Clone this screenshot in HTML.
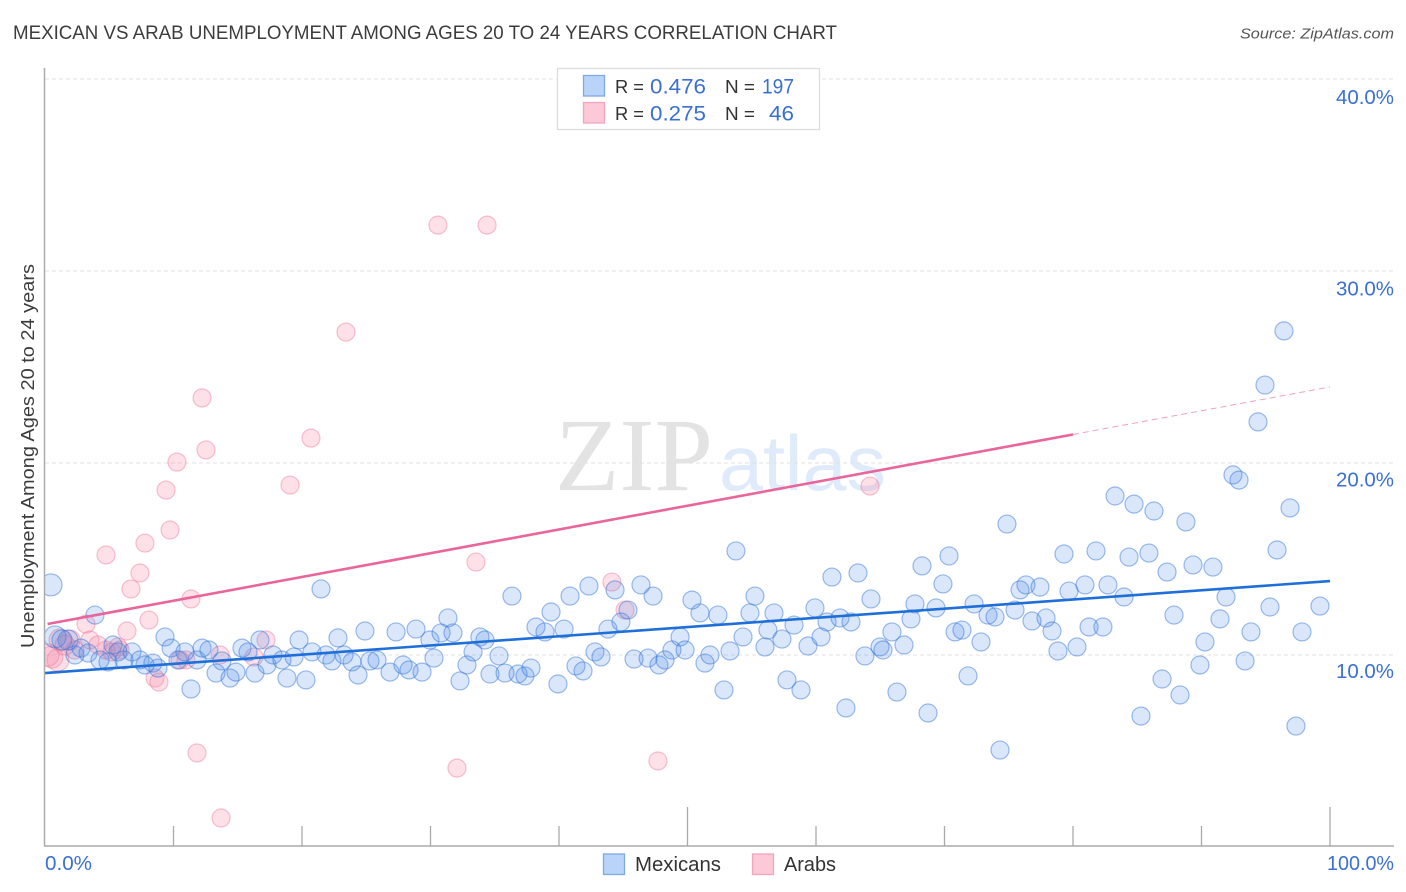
<!DOCTYPE html>
<html>
<head>
<meta charset="utf-8">
<title>Mexican vs Arab Unemployment Correlation Chart</title>
<style>
html,body{margin:0;padding:0;background:#fff;width:1406px;height:892px;overflow:hidden}
svg{display:block}
text{font-family:"Liberation Sans",sans-serif}
</style>
</head>
<body>
<svg id="chart" xmlns="http://www.w3.org/2000/svg" width="1406" height="892" viewBox="0 0 1406 892">
  <defs>
    <clipPath id="plot-clip"><rect x="45" y="60" width="1349" height="786"/></clipPath>
  </defs>
  <text x="13" y="39" font-size="19" fill="#3c3c3c" textLength="824" lengthAdjust="spacingAndGlyphs">MEXICAN VS ARAB UNEMPLOYMENT AMONG AGES 20 TO 24 YEARS CORRELATION CHART</text>
  <text x="1394" y="38.5" font-size="15" font-style="italic" fill="#555" text-anchor="end" textLength="154" lengthAdjust="spacingAndGlyphs">Source: ZipAtlas.com</text>
  <text transform="translate(34 456) rotate(-90)" font-size="18.5" fill="#3c3c3c" text-anchor="middle" textLength="384" lengthAdjust="spacingAndGlyphs">Unemployment Among Ages 20 to 24 years</text>

  <g id="watermark">
    <text x="555" y="490" font-size="104" fill="#e3e3e3" textLength="158" lengthAdjust="spacingAndGlyphs" style="font-family:'Liberation Serif',serif">ZIP</text>
    <text x="719" y="490" font-size="78" fill="#dfeafa" textLength="167" lengthAdjust="spacingAndGlyphs">atlas</text>
  </g>

  <g id="grid"></g>
  <g id="marks-arab" clip-path="url(#plot-clip)"></g>
  <g id="marks-mexican" clip-path="url(#plot-clip)"></g>
  <g id="trends"></g>
  <g id="axes">
    <line x1="44.5" y1="68" x2="44.5" y2="846" stroke="#aaa" stroke-width="1.5"/>
    <line x1="44" y1="846" x2="1394" y2="846" stroke="#aaa" stroke-width="1.5"/>
  </g>
  <g id="tick-labels"></g>

  <g>
    <rect x="557.5" y="68.5" width="262" height="61" fill="#fff" stroke="#ddd" stroke-width="1.3"/>
    <rect x="583.5" y="75.5" width="21" height="20.5" fill="#b9d4f8" stroke="#7fa8e4" stroke-width="1.3"/>
    <rect x="583.5" y="102.5" width="21" height="20.5" fill="#fdc8d8" stroke="#f2a5bd" stroke-width="1.3"/>
    <text x="615" y="93" font-size="18.5" fill="#333" textLength="29" lengthAdjust="spacingAndGlyphs">R =</text>
    <text x="650" y="93.5" font-size="21" fill="#3a70d2" textLength="56" lengthAdjust="spacingAndGlyphs">0.476</text>
    <text x="725" y="93" font-size="18.5" fill="#333" textLength="30" lengthAdjust="spacingAndGlyphs">N =</text>
    <text x="762" y="93.5" font-size="21" fill="#3a70d2" textLength="32" lengthAdjust="spacingAndGlyphs">197</text>
    <text x="615" y="120" font-size="18.5" fill="#333" textLength="29" lengthAdjust="spacingAndGlyphs">R =</text>
    <text x="650" y="120.5" font-size="21" fill="#3a70d2" textLength="56" lengthAdjust="spacingAndGlyphs">0.275</text>
    <text x="725" y="120" font-size="18.5" fill="#333" textLength="30" lengthAdjust="spacingAndGlyphs">N =</text>
    <text x="769" y="120.5" font-size="21" fill="#3a70d2" textLength="25" lengthAdjust="spacingAndGlyphs">46</text>
  </g>

  <g>
    <rect x="603.5" y="854" width="21" height="20.5" fill="#b9d4f8" stroke="#7fa8e4" stroke-width="1.3"/>
    <text x="635" y="871" font-size="20" fill="#333" textLength="86" lengthAdjust="spacingAndGlyphs">Mexicans</text>
    <rect x="752.5" y="854" width="21" height="20.5" fill="#fdc8d8" stroke="#f2a5bd" stroke-width="1.3"/>
    <text x="784" y="871" font-size="20" fill="#333" textLength="52" lengthAdjust="spacingAndGlyphs">Arabs</text>
  </g>
</svg>

<script>
const yTickValues = [10, 20, 30, 40];
const yTickLabels = ['10.0%', '20.0%', '30.0%', '40.0%'];
const xTickValues = [10, 20, 30, 40, 50, 60, 70, 80, 90, 100];
const xEndValues = [0, 100];
const xEndLabels = ['0.0%', '100.0%'];

const mexicanTrend = [9.06, 13.85];
const arabTrend = [11.59, 23.96];
const arabSolidUntil = 80;

const mexicanX = [0.47,3.89,0.78,1.79,1.32,2.33,2.80,3.35,4.28,4.90,5.29,5.68,6.15,6.77,7.39,7.78,8.40,8.79,9.34,9.81,
10.35,10.89,11.36,11.83,12.22,12.76,13.31,13.77,14.40,14.86,15.33,15.80,16.34,16.73,17.28,17.74,18.44,18.83,19.38,19.77,
20.31,20.78,21.48,21.87,22.33,22.80,23.27,23.89,24.36,24.90,25.29,25.84,26.85,27.32,27.86,28.33,28.87,29.34,29.96,30.27,
30.82,31.36,31.75,32.30,32.84,33.31,33.85,34.24,34.63,35.33,35.80,36.34,36.81,37.35,37.82,38.21,38.91,39.38,39.92,40.39,
40.86,41.32,41.87,42.33,42.80,43.27,43.81,44.36,44.82,45.37,45.84,46.38,46.93,47.32,47.78,48.25,48.79,49.42,49.81,50.35,
50.97,51.36,51.75,52.37,52.84,53.31,53.77,54.32,54.86,55.25,56.03,56.26,56.73,57.35,57.74,58.29,58.83,59.38,59.92,60.39,
60.86,61.24,61.87,62.33,62.72,63.27,63.81,64.28,64.98,65.21,65.91,66.30,66.85,67.39,67.70,68.25,68.72,69.34,69.88,70.35,
70.82,71.36,71.83,72.30,72.84,73.39,73.93,74.32,74.86,75.49,75.88,76.34,76.81,77.43,77.90,78.37,78.83,79.30,79.69,80.31,
80.93,81.25,81.79,82.33,82.72,83.27,83.97,84.36,84.75,85.29,85.91,86.30,86.93,87.32,87.86,88.33,88.79,89.34,89.88,90.27,
90.89,91.44,91.91,92.45,92.92,93.39,93.85,94.40,94.94,95.33,95.88,96.42,96.89,97.35,97.82,99.22];

const mexicanY = [13.65,12.08,10.94,10.78,10.78,10.00,10.36,10.10,9.74,9.64,10.52,10.16,9.74,10.16,9.74,9.48,9.58,9.32,10.94,10.36,
9.74,10.16,8.23,9.74,10.36,10.26,9.06,9.69,8.80,9.11,10.36,10.16,9.06,10.78,9.48,10.00,9.74,8.80,9.90,10.78,
8.70,10.16,13.44,10.00,9.69,10.89,10.00,9.64,8.96,11.25,9.69,9.74,9.11,11.20,9.48,9.22,11.35,9.11,10.78,9.84,
11.15,11.93,11.15,8.65,9.48,10.16,10.94,10.78,9.01,9.95,9.06,13.07,9.01,8.91,9.32,11.46,11.20,12.24,8.49,11.35,
13.07,9.43,9.17,13.59,10.16,9.90,11.35,13.39,11.72,12.34,9.79,13.65,9.84,13.07,9.48,9.74,10.26,10.94,10.26,12.86,
12.19,9.58,10.00,12.08,8.18,10.21,15.42,10.94,12.19,13.07,10.42,11.30,12.19,10.83,8.70,11.56,8.18,10.47,12.45,10.94,
11.72,14.06,11.93,7.24,11.72,14.27,9.95,12.92,10.42,10.26,11.20,8.07,10.52,11.88,12.66,14.64,6.98,12.45,13.70,15.16,
11.20,11.30,8.91,12.66,10.68,12.08,11.98,5.05,16.82,12.34,13.39,13.65,11.77,13.54,11.93,11.25,10.21,15.26,13.33,10.42,
13.65,11.46,15.42,11.46,13.65,18.28,13.02,15.10,17.86,6.82,15.31,17.50,8.75,14.32,12.08,7.92,16.93,14.69,9.48,10.68,
14.58,11.88,13.02,19.38,19.11,9.69,11.20,22.14,24.06,12.50,15.47,26.88,17.66,6.30,11.20,12.55];

const arabX = [0.54,1.01,1.95,1.17,0.23,1.56,2.33,3.19,3.50,4.12,4.75,4.75,5.21,5.84,5.68,6.38,6.69,7.39,7.78,8.09,
8.56,8.87,9.42,9.73,10.27,10.51,10.97,11.36,11.83,12.22,12.53,13.62,13.70,16.26,17.20,19.07,20.70,23.42,30.58,32.06,
33.54,34.40,44.12,45.14,47.70,64.20];

const arabY = [9.90,9.74,10.78,10.78,10.00,10.52,10.26,11.61,10.78,10.52,15.21,10.26,10.16,10.26,10.42,11.25,13.44,14.27,15.83,11.82,
8.80,8.59,18.59,16.51,20.05,9.74,9.74,12.92,4.90,23.39,20.68,10.00,1.51,9.90,10.78,18.85,21.30,26.82,32.39,4.11,
14.84,32.39,13.80,12.34,4.48,18.80];

const NS = 'http://www.w3.org/2000/svg';
function xScale(v) { return 45 + v * 12.85; }
function yScale(v) { return 847 - v * 19.2; }
function yLabelScale(v) { return 678 - (v - 10) * 19.13; }
function radiusFor(v, base) { return v < 1.2 ? base + 2 : (v < 2 ? base + 1 : base); }
function make(tag, attrs, parent) {
  const el = document.createElementNS(NS, tag);
  for (const k in attrs) el.setAttribute(k, attrs[k]);
  parent.appendChild(el);
  return el;
}

const grid = document.getElementById('grid');
yTickValues.forEach(function (v) {
  const gl = make('line', { x1: 45, x2: 1394, y1: yScale(v), y2: yScale(v), stroke: '#e2e2e2', 'stroke-width': 1, 'stroke-dasharray': '4 3' }, grid);
  
  
});

const axes = document.getElementById('axes');
xTickValues.forEach(function (v) {
  const tall = v === 50 || v === 100;
  const t = make('line', { x1: xScale(v), x2: xScale(v), y1: tall ? 807 : 826, y2: 846, stroke: '#aaa', 'stroke-width': 1.3 }, axes);
  
  
});

const labels = document.getElementById('tick-labels');
yTickValues.forEach(function (v, i) {
  const t = make('text', { x: 1394, y: yLabelScale(v), 'font-size': 20, fill: '#3a70d2', 'text-anchor': 'end', textLength: 58, lengthAdjust: 'spacingAndGlyphs' }, labels);
  t.textContent = yTickLabels[i];
  
  
});
xEndValues.forEach(function (v, i) {
  const first = i === 0;
  const t = make('text', { x: first ? xScale(v) : 1394, y: 870, 'font-size': 20, fill: '#3a70d2', 'text-anchor': first ? 'start' : 'end', textLength: first ? 47 : 67, lengthAdjust: 'spacingAndGlyphs' }, labels);
  t.textContent = xEndLabels[i];
  
  
});

const gArab = document.getElementById('marks-arab');
arabX.forEach(function (v, i) {
  const c = make('circle', { cx: xScale(v), cy: yScale(arabY[i]), r: radiusFor(v, 9), fill: 'rgba(248,140,170,0.27)', stroke: 'rgba(238,120,155,0.45)', 'stroke-width': 1.2 }, gArab);
  
  
});

const gMex = document.getElementById('marks-mexican');
mexicanX.forEach(function (v, i) {
  const c = make('circle', { cx: xScale(v), cy: yScale(mexicanY[i]), r: radiusFor(v, 9), fill: 'rgba(70,135,230,0.2)', stroke: 'rgba(50,115,215,0.48)', 'stroke-width': 1.2 }, gMex);
  
  
});

function trendAt(tr, x) { return tr[0] + (tr[1] - tr[0]) * x / 100; }
const trends = document.getElementById('trends');
const lineMex = make('line', { x1: xScale(0), y1: yScale(trendAt(mexicanTrend, 0)), x2: xScale(100), y2: yScale(trendAt(mexicanTrend, 100)), stroke: '#1f6fd9', 'stroke-width': 2.6 }, trends);


const lineArab = make('line', { x1: xScale(0.2), y1: yScale(trendAt(arabTrend, 0.2)), x2: xScale(arabSolidUntil), y2: yScale(trendAt(arabTrend, arabSolidUntil)), stroke: '#e9659a', 'stroke-width': 2.6 }, trends);


const lineArabDash = make('line', { x1: xScale(arabSolidUntil), y1: yScale(trendAt(arabTrend, arabSolidUntil)), x2: xScale(100), y2: yScale(trendAt(arabTrend, 100)), stroke: '#f0a0be', 'stroke-width': 1, 'stroke-dasharray': '6 4' }, trends);


</script>
</body>
</html>
